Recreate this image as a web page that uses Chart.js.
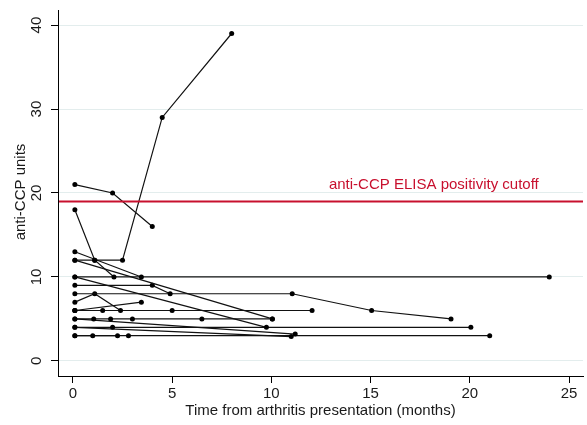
<!DOCTYPE html>
<html>
<head>
<meta charset="utf-8">
<script src="https://cdn.jsdelivr.net/npm/chart.js@4.4.1/dist/chart.umd.min.js"></script>
<style>
  html, body { margin: 0; padding: 0; background: #fff; }
</style>
</head>
<body>
<canvas id="ccp-chart" width="587" height="425"></canvas>
<script>
// one entry per patient: months since presentation, and anti-CCP units at that visit
const visitMonths = [
  [0.1, 2, 4],
  [0.1, 1.1, 2.5, 4.5, 8],
  [0.1, 1.1, 2.07],
  [0.1, 3.45],
  [0.1, 10.05],
  [0.1, 9.75],
  [0.1, 24],
  [0.1, 4, 4.9],
  [0.1, 11.05, 15.05, 19.05],
  [0.1, 1.1, 2.4],
  [0.1, 3.45],
  [0.1, 1.5, 5],
  [0.1, 12.05],
  [0.1, 1.05, 1.9, 3, 6.5, 10.05],
  [0.1, 2, 20.05],
  [0.1, 11.2],
  [0.1, 11],
  [0.1, 1, 2.25],
  [0.1, 2.8, 21]
];
const ccpUnits = [
  [21, 20, 16],
  [18, 12, 12, 29, 39],
  [12, 12, 10],
  [13, 10],
  [12, 5],
  [10, 4],
  [10, 10],
  [9, 9, 8],
  [8, 8, 6, 5],
  [7, 8, 6],
  [6, 7],
  [6, 6, 6],
  [6, 6],
  [5, 5, 5, 5, 5, 5],
  [4, 4, 4],
  [5, 3.2],
  [4, 2.9],
  [3, 3, 3],
  [3, 3, 3]
];
const xTicks = [0, 5, 10, 15, 20, 25];
const yTicks = [0, 10, 20, 30, 40];
const cutoff = 19;
const cutoffLabel = 'anti-CCP ELISA positivity cutoff';
const yTitle = 'anti-CCP units';

const FONT = 'Liberation Sans, Arial, sans-serif';
const RED = '#c8102e';
const INK = '#1a1a1a';

const datasets = visitMonths.map((months, i) => ({
  data: months.map((m, j) => ({ x: m, y: ccpUnits[i][j] })),
  borderColor: '#111',
  borderWidth: 1.2,
  pointRadius: 2.5,
  pointBackgroundColor: '#000',
  pointBorderWidth: 0,
  tension: 0
}));

const extras = {
  id: 'extras',
  afterDatasetsDraw(chart) {
    const { ctx, chartArea, scales: { x, y } } = chart;
    const yc = y.getPixelForValue(cutoff);
    ctx.save();
    ctx.strokeStyle = RED;
    ctx.lineWidth = 2;
    ctx.beginPath();
    ctx.moveTo(chartArea.left + 1, yc);
    ctx.lineTo(chartArea.right, yc);
    ctx.stroke();
    ctx.fillStyle = RED;
    ctx.font = '15px ' + FONT;
    ctx.textAlign = 'left';
    ctx.textBaseline = 'middle';
    ctx.fillText(cutoffLabel, x.getPixelForValue(12.9), yc - 17);

    // y tick labels and title, rotated like Stata does
    ctx.fillStyle = INK;
    ctx.font = '15px ' + FONT;
    ctx.textAlign = 'center';
    y.ticks.forEach(t => {
      ctx.save();
      ctx.translate(37, y.getPixelForValue(t.value));
      ctx.rotate(-Math.PI / 2);
      ctx.fillText(String(t.value), 0, 0);
      ctx.restore();
    });
    ctx.save();
    ctx.translate(21, (chartArea.top + chartArea.bottom) / 2 - 1);
    ctx.rotate(-Math.PI / 2);
    ctx.fillText(yTitle, 0, 0);
    ctx.restore();
    ctx.restore();
  }
};

new Chart(document.getElementById('ccp-chart'), {
  type: 'line',
  data: { datasets },
  options: {
    responsive: false,
    animation: false,
    events: [],
    layout: { padding: { top: 10, right: 0, left: 0, bottom: 0 } },
    plugins: { legend: { display: false }, tooltip: { enabled: false } },
    scales: {
      x: {
        type: 'linear',
        min: -0.75,
        max: 25.7,
        afterFit(s) { s.height = 49; },
        afterBuildTicks(s) { s.ticks = xTicks.map(v => ({ value: v })); },
        grid: { drawOnChartArea: false, tickLength: 7, tickColor: '#000', tickWidth: 1 },
        border: { color: '#000', width: 1 },
        ticks: { font: { family: FONT, size: 15 }, color: INK, padding: 2, maxRotation: 0 },
        title: {
          display: true,
          text: 'Time from arthritis presentation (months)',
          font: { family: FONT, size: 15 },
          color: INK,
          padding: { top: 2, bottom: 5 }
        }
      },
      y: {
        type: 'linear',
        min: -1.8,
        max: 41.8,
        afterFit(s) { s.width = 58; },
        afterBuildTicks(s) { s.ticks = yTicks.map(v => ({ value: v })); },
        grid: { color: '#e3eded', tickColor: '#000', tickLength: 7, lineWidth: 1 },
        border: { color: '#000', width: 1 },
        ticks: { display: false },
        title: { display: false }
      }
    }
  },
  plugins: [extras]
});
</script>
</body>
</html>
